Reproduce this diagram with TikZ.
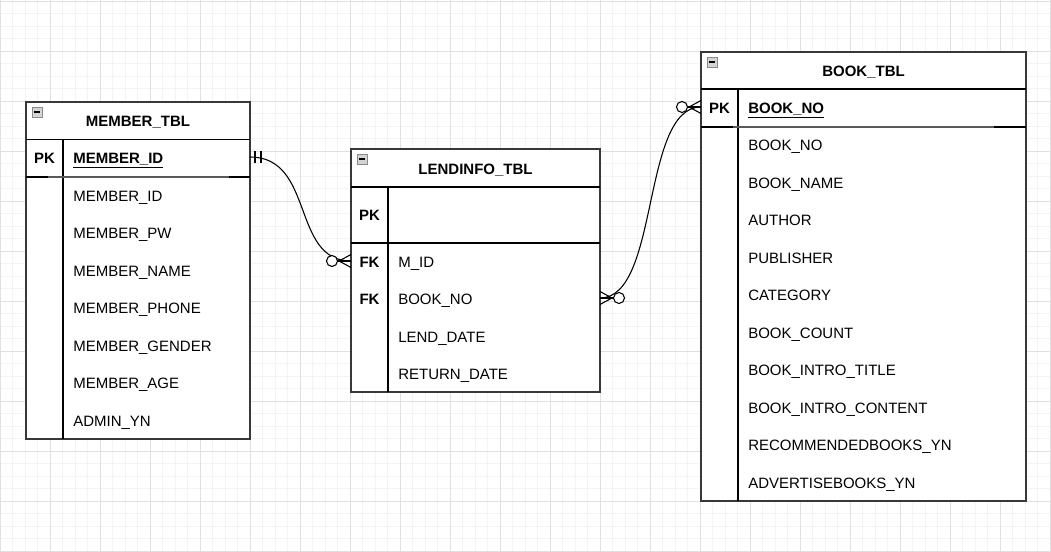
\documentclass[tikz,border=0pt]{standalone}
\usepackage{fontspec}
\setmainfont{Liberation Sans}
\usetikzlibrary{calc}
\definecolor{gminor}{HTML}{F4F4F4}
\definecolor{gmajor}{HTML}{E0E0E0}
\definecolor{tline}{HTML}{383838}
\definecolor{iconb}{HTML}{8A8A8A}
\definecolor{iconf}{HTML}{D4D4D4}
\tikzset{
  minorg/.style={draw=gminor, line width=0.75pt},
  majorg/.style={draw=gmajor, line width=0.75pt},
  tbl/.style={draw=tline, line width=1.2pt, fill=white, inner sep=0pt, outer sep=0pt},
  inner/.style={draw=black, line width=0.8pt},
  rowb/.style={inner sep=0pt, outer sep=0pt, minimum height=28pt},
  fld/.style={anchor=base west, inner sep=0pt, yshift=-0.7pt, font=\fontsize{11.25}{13}\selectfont},
  keyt/.style={anchor=base, inner sep=0pt, yshift=-0.7pt, font=\bfseries\fontsize{11.25}{13}\selectfont},
  ttl/.style={anchor=base, inner sep=0pt, yshift=-0.7pt, font=\bfseries\fontsize{11.25}{13}\selectfont},
  conn/.style={draw=black, line width=0.8pt},
  circ/.style={draw=black, line width=0.8pt, fill=white},
}
\newcommand{\tblicon}[2]{%
  \draw[draw=iconb, fill=iconf, line width=0.6pt] (#1,#2) rectangle ++(10,10);
  \draw[black, line width=1.1pt] (#1+2.2,#2+5) -- (#1+7.8,#2+5);}
\begin{document}
\begin{tikzpicture}[x=0.75pt, y=-0.75pt]
\useasboundingbox (0,0) rectangle (1051,552);
\fill[white] (0,0) rectangle (1051,552);
% grid
\foreach \i in {0,...,84} {\draw[minorg] (\i*12.5,0) -- (\i*12.5,552);}
\foreach \j in {0,...,44} {\draw[minorg] (0,1.5+\j*12.5) -- (1051,1.5+\j*12.5);}
\foreach \i in {0,...,21} {\draw[majorg] (\i*50,0) -- (\i*50,552);}
\foreach \j in {0,...,11} {\draw[majorg] (0,1.5+\j*50) -- (1051,1.5+\j*50);}

% ---------- MEMBER_TBL ----------
\node[tbl, minimum width=168pt, minimum height=252.75pt] (member) at (138,270.5) {};
\draw[inner] (26,139.5) -- (250,139.5);
\draw[inner] (63,139.5) -- (63,439);
\draw[line width=1.2pt, black!65] (26,177) -- (250,177);
\draw[line width=1.8pt, black] (26,177) -- (48,177);
\draw[line width=1.8pt, black] (229,177) -- (250,177);
\tblicon{32}{107}
\node[ttl] (mt) at (138,125.9) {MEMBER\_TBL};
\node[rowb, minimum width=168pt] (mpk) at (138,157) {};
\node[keyt] (mk) at (44.5,162.4) {PK};
\node[fld, font=\bfseries\fontsize{11.25}{13}\selectfont] (m0) at (73,162.4) {\underline{MEMBER\_ID}};
\node[fld] (m1) at (73,200.4) {MEMBER\_ID};
\node[fld] (m2) at (73,237.9) {MEMBER\_PW};
\node[fld] (m3) at (73,275.4) {MEMBER\_NAME};
\node[fld] (m4) at (73,312.9) {MEMBER\_PHONE};
\node[fld] (m5) at (73,350.4) {MEMBER\_GENDER};
\node[fld] (m6) at (73,387.9) {MEMBER\_AGE};
\node[fld] (m7) at (73,425.4) {ADMIN\_YN};

% ---------- LENDINFO_TBL ----------
\node[tbl, minimum width=186.75pt, minimum height=182.25pt] (lend) at (475.5,270.5) {};
\draw[inner] (351,187) -- (600,187);
\draw[inner] (351,243) -- (600,243);
\draw[inner] (388,187) -- (388,392);
\tblicon{357}{154}
\node[ttl] (lt) at (475.5,173.4) {LENDINFO\_TBL};
\node[keyt] (lk0) at (369.5,219.9) {PK};
\node[rowb, minimum width=186.75pt] (lm) at (475.5,261) {};
\node[rowb, minimum width=186.75pt] (lb) at (475.5,298) {};
\node[keyt] (lk1) at (369.5,266.4) {FK};
\node[keyt] (lk2) at (369.5,303.4) {FK};
\node[fld] (l1) at (398,266.4) {M\_ID};
\node[fld] (l2) at (398,303.4) {BOOK\_NO};
\node[fld] (l3) at (398,341.4) {LEND\_DATE};
\node[fld] (l4) at (398,378.4) {RETURN\_DATE};

% ---------- BOOK_TBL ----------
\node[tbl, minimum width=243.75pt, minimum height=336.75pt] (book) at (863.5,276.5) {};
\draw[inner] (701,89) -- (1026,89);
\draw[inner] (738,89) -- (738,501);
\draw[line width=1.2pt, black!65] (701,127) -- (1026,127);
\draw[line width=1.8pt, black] (701,127) -- (733,127);
\draw[line width=1.8pt, black] (994,127) -- (1026,127);
\tblicon{707}{57}
\node[ttl] (bt) at (863.5,75.9) {BOOK\_TBL};
\node[rowb, minimum width=243.75pt] (bpk) at (863.5,107) {};
\node[keyt] (bk) at (719.5,112.4) {PK};
\node[fld, font=\bfseries\fontsize{11.25}{13}\selectfont] (b0) at (748,112.4) {\underline{BOOK\_NO}};
\node[fld] (b1) at (748,149.4) {BOOK\_NO};
\node[fld] (b2) at (748,187.4) {BOOK\_NAME};
\node[fld] (b3) at (748,224.4) {AUTHOR};
\node[fld] (b4) at (748,262.4) {PUBLISHER};
\node[fld] (b5) at (748,299.4) {CATEGORY};
\node[fld] (b6) at (748,337.4) {BOOK\_COUNT};
\node[fld] (b7) at (748,374.4) {BOOK\_INTRO\_TITLE};
\node[fld] (b8) at (748,412.4) {BOOK\_INTRO\_CONTENT};
\node[fld] (b9) at (748,449.4) {RECOMMENDEDBOOKS\_YN};
\node[fld] (b10) at (748,487.4) {ADVERTISEBOOKS\_YN};

% ---------- connectors ----------
% MEMBER (one, mandatory) -> LENDINFO (zero or many)
\draw[conn] (mpk.east) .. controls +(65,0) and +(-60,0) .. (lm.west);
\draw[conn] ($(mpk.east)+(5,-6)$) -- ($(mpk.east)+(5,6)$);
\draw[conn] ($(mpk.east)+(11,-6)$) -- ($(mpk.east)+(11,6)$);
\draw[circ] ($(lm.west)+(-19,0)$) circle[radius=5.5];
\draw[conn] ($(lm.west)+(-12,0)$) -- ($(lm.west)+(0,-6.5)$);
\draw[conn] ($(lm.west)+(-12,0)$) -- ($(lm.west)+(0,6.5)$);
\draw[conn] ($(lm.west)+(-13.5,0)$) -- (lm.west);

% LENDINFO (zero or many) -> BOOK (zero or many)
\draw[conn] (lb.east) .. controls +(60,0) and +(-60,0) .. (bpk.west);
\draw[circ] ($(lb.east)+(19,0)$) circle[radius=5.5];
\draw[conn] ($(lb.east)+(12,0)$) -- ($(lb.east)+(0,-6.5)$);
\draw[conn] ($(lb.east)+(12,0)$) -- ($(lb.east)+(0,6.5)$);
\draw[conn] ($(lb.east)+(13.5,0)$) -- (lb.east);
\draw[circ] ($(bpk.west)+(-19,0)$) circle[radius=5.5];
\draw[conn] ($(bpk.west)+(-12,0)$) -- ($(bpk.west)+(0,-6.5)$);
\draw[conn] ($(bpk.west)+(-12,0)$) -- ($(bpk.west)+(0,6.5)$);
\draw[conn] ($(bpk.west)+(-13.5,0)$) -- (bpk.west);
\end{tikzpicture}
\end{document}
